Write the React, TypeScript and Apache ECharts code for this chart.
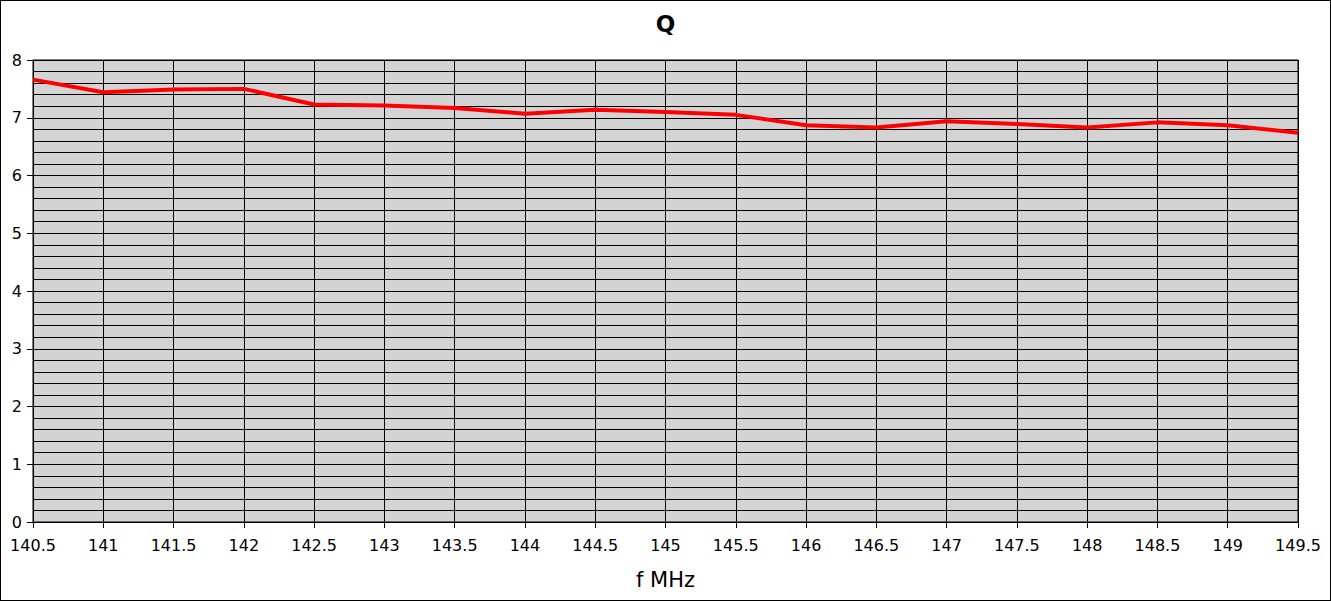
import React, { useEffect, useRef } from "react";
import * as echarts from "echarts";

const freqs = [140.5, 141, 141.5, 142, 142.5, 143, 143.5, 144, 144.5, 145, 145.5, 146, 146.5, 147, 147.5, 148, 148.5, 149, 149.5];
const qValues = [7.66, 7.44, 7.49, 7.5, 7.23, 7.21, 7.17, 7.07, 7.14, 7.1, 7.05, 6.87, 6.83, 6.94, 6.89, 6.83, 6.92, 6.87, 6.74];
const titleText = "Q";
const xName = "f MHz";

export default function App() {
  const ref = useRef<HTMLDivElement>(null);
  useEffect(() => {
    document.body.style.margin = "0";
    const chart = echarts.init(ref.current!, null, { renderer: "svg" });
    const font = "DejaVu Sans";
    chart.setOption({
      animation: false,
      title: {
        text: titleText,
        left: "center",
        top: 6,
        textStyle: { fontFamily: font, fontSize: 23, fontWeight: "bold", color: "#000" },
      },
      grid: {
        left: 32,
        right: 32,
        top: 59,
        bottom: 78,
        show: true,
        backgroundColor: "#d3d3d3",
        borderColor: "#000",
        borderWidth: 1,
      },
      xAxis: {
        type: "value",
        min: 140.5,
        max: 149.5,
        interval: 0.5,
        name: xName,
        nameLocation: "middle",
        nameGap: 47,
        nameTextStyle: { fontFamily: font, fontSize: 21, color: "#000" },
        axisLine: { show: true, lineStyle: { color: "#000", width: 1 } },
        axisTick: { show: true, length: 6, lineStyle: { color: "#000" } },
        axisLabel: { fontFamily: font, fontSize: 16, color: "#000", margin: 15 },
        splitLine: { show: true, lineStyle: { color: "#000", width: 1 } },
      },
      yAxis: {
        type: "value",
        min: 0,
        max: 8,
        interval: 1,
        axisLine: { show: true, lineStyle: { color: "#000", width: 1 } },
        axisTick: { show: true, length: 6, lineStyle: { color: "#000" } },
        axisLabel: { fontFamily: font, fontSize: 16, color: "#000", margin: 11 },
        splitLine: { show: true, lineStyle: { color: "#000", width: 1 } },
        minorTick: { show: false, splitNumber: 5 },
        minorSplitLine: { show: true, lineStyle: { color: "#000", width: 1 } },
      },
      series: [
        {
          type: "line",
          data: freqs.map((f, i) => [f, qValues[i]]),
          symbol: "none",
          lineStyle: { color: "#ff0000", width: 4 },
        },
      ],
    });
    return () => chart.dispose();
  }, []);
  return (
    <div
      ref={ref}
      style={{ width: 1331, height: 601, border: "1px solid #000", boxSizing: "border-box" }}
    />
  );
}
